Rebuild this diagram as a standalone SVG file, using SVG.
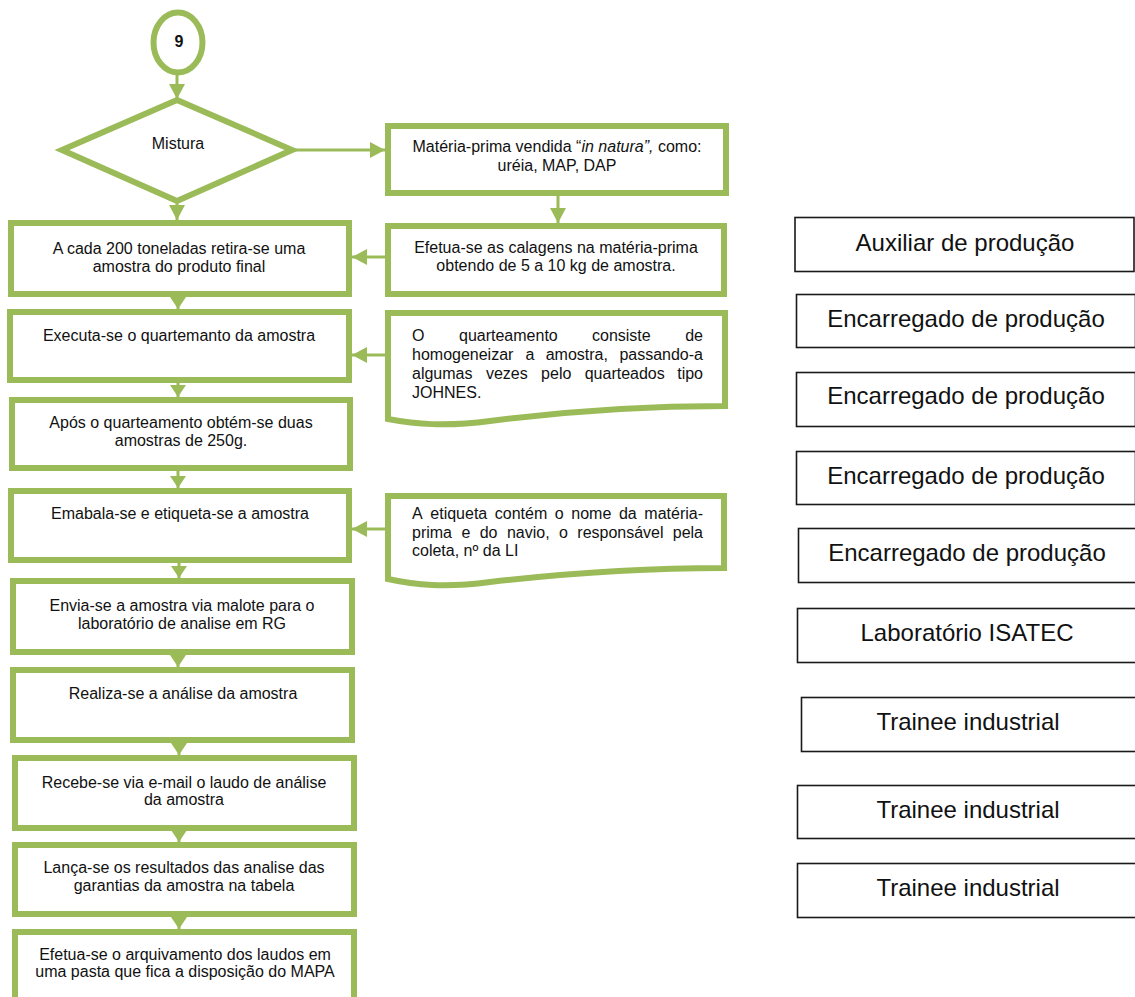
<svg xmlns="http://www.w3.org/2000/svg" width="1135" height="997" viewBox="0 0 1135 997">
  <style>
    .g { fill: #ffffff; stroke: #9bbb59; stroke-width: 6; }
    .k { fill: #ffffff; stroke: #1a1a1a; stroke-width: 1.6; }
    .c { fill: none; stroke: #9bbb59; stroke-width: 3; }
    .t { font-family: "Liberation Sans", Arial, sans-serif; font-size: 16px; fill: #111111; }
    .tm { text-anchor: middle; }
    .tr { font-family: "Liberation Sans", Arial, sans-serif; font-size: 24px; fill: #111111; text-anchor: middle; }
    .e { text-anchor: end; }
  </style>
  <defs>
    <marker id="ah" viewBox="0 0 10 10" refX="10" refY="5" markerUnits="userSpaceOnUse" markerWidth="15" markerHeight="16" preserveAspectRatio="none" orient="auto">
      <path d="M0,0 L10,5 L0,10 Z" fill="#9bbb59"/>
    </marker>
    <marker id="ahs" viewBox="0 0 10 10" refX="10" refY="5" markerUnits="userSpaceOnUse" markerWidth="12" markerHeight="16" preserveAspectRatio="none" orient="auto">
      <path d="M0,0 L10,5 L0,10 Z" fill="#9bbb59"/>
    </marker>
  </defs>

  <rect width="1135" height="997" fill="#ffffff"/>

  <!-- connectors -->
  <g id="connectors">
    <line class="c" x1="177" y1="75" x2="177" y2="99" marker-end="url(#ah)"/>
    <line class="c" x1="292" y1="150" x2="385" y2="150" marker-end="url(#ah)"/>
    <line class="c" x1="177" y1="201" x2="177" y2="220" marker-end="url(#ah)"/>
    <line class="c" x1="558" y1="196" x2="558" y2="223" marker-end="url(#ah)"/>
    <line class="c" x1="385" y1="257" x2="352" y2="257" marker-end="url(#ah)"/>
    <line class="c" x1="385" y1="355" x2="352" y2="355" marker-end="url(#ah)"/>
    <line class="c" x1="385" y1="529" x2="352" y2="529" marker-end="url(#ah)"/>
    <line class="c" x1="178" y1="297" x2="178" y2="309" marker-end="url(#ahs)"/>
    <line class="c" x1="178" y1="383" x2="178" y2="397" marker-end="url(#ahs)"/>
    <line class="c" x1="178" y1="471" x2="178" y2="488" marker-end="url(#ahs)"/>
    <line class="c" x1="179" y1="563" x2="179" y2="578" marker-end="url(#ahs)"/>
    <line class="c" x1="178" y1="655" x2="178" y2="667" marker-end="url(#ahs)"/>
    <line class="c" x1="179" y1="743" x2="179" y2="755" marker-end="url(#ahs)"/>
    <line class="c" x1="179" y1="831" x2="179" y2="842" marker-end="url(#ahs)"/>
    <line class="c" x1="179" y1="917" x2="179" y2="929" marker-end="url(#ahs)"/>
  </g>

  <!-- start connector -->
  <g id="n-start">
    <ellipse class="g" cx="178" cy="42.5" rx="24.5" ry="30" stroke-width="5"/>
    <text class="t tm" x="179" y="47" font-weight="bold" font-size="14">9</text>
  </g>

  <g id="n-mistura">
    <polygon class="g" points="177,100 292,150 177,201 62,150"/>
    <text class="t tm" x="178" y="149">Mistura</text>
  </g>

  <g id="n-materia">
    <rect class="g" x="388" y="126" width="338" height="67"/>
    <text class="t tm" x="557" y="152">Matéria-prima vendida “<tspan font-style="italic">in natura”,</tspan> como:</text>
    <text class="t tm" x="557" y="171">uréia, MAP, DAP</text>
  </g>

  <g id="n-calagens">
    <rect class="g" x="388" y="226" width="336" height="68"/>
    <text class="t tm" x="556" y="253">Efetua-se as calagens na matéria-prima</text>
    <text class="t tm" x="556" y="271">obtendo de 5 a 10 kg de amostra.</text>
  </g>

  <!-- justified note: words placed one by one -->
  <g id="n-quarteamento-nota">
    <path class="g" d="M388,313 H725 V406 C640,406 560,412 490,421 C445,427 415,424 388,419 Z"/>
    <text class="t" y="341"><tspan x="412">O</tspan><tspan x="459">quarteamento</tspan><tspan x="592">consiste</tspan></text>
    <text class="t e" x="703" y="341">de</text>
    <text class="t" y="360"><tspan x="412">homogeneizar</tspan><tspan x="525.4">a</tspan><tspan x="545.7">amostra,</tspan></text>
    <text class="t e" x="703" y="360">passando-a</text>
    <text class="t" y="379"><tspan x="412">algumas</tspan><tspan x="485.9">vezes</tspan><tspan x="541.1">pelo</tspan><tspan x="584.7">quarteados</tspan></text>
    <text class="t e" x="703" y="379">tipo</text>
    <text class="t" x="412" y="398">JOHNES.</text>
  </g>

  <g id="n-etiqueta-nota">
    <path class="g" d="M388,496 H724 V568 C640,568 560,574 490,582 C445,588 415,585 388,579 Z"/>
    <text class="t" y="519"><tspan x="412">A</tspan><tspan x="430.3">etiqueta</tspan><tspan x="494.8">contém</tspan><tspan x="554.8">o</tspan><tspan x="571.3">nome</tspan><tspan x="618.9">da</tspan></text>
    <text class="t e" x="703" y="519">matéria-</text>
    <text class="t" y="538"><tspan x="412">prima</tspan><tspan x="461.4">e</tspan><tspan x="479.7">do</tspan><tspan x="506.9">navio,</tspan><tspan x="559">o</tspan><tspan x="577.3">responsável</tspan></text>
    <text class="t e" x="703" y="538">pela</text>
    <text class="t" x="412" y="556">coleta, nº da LI</text>
  </g>

  <!-- main column -->
  <g id="n-retirada">
    <rect class="g" x="11" y="223" width="338" height="71"/>
    <text class="t tm" x="179" y="254">A cada 200 toneladas retira-se uma</text>
    <text class="t tm" x="179" y="272">amostra do produto final</text>
  </g>

  <g id="n-quartemanto">
    <rect class="g" x="10" y="312" width="339" height="68"/>
    <text class="t tm" x="179" y="341">Executa-se o quartemanto da amostra</text>
  </g>

  <g id="n-duas-amostras">
    <rect class="g" x="12" y="400" width="338" height="68"/>
    <text class="t tm" x="181" y="428">Após o quarteamento obtém-se duas</text>
    <text class="t tm" x="181" y="446">amostras de 250g.</text>
  </g>

  <g id="n-embala">
    <rect class="g" x="11" y="491" width="338" height="69"/>
    <text class="t tm" x="180" y="519">Emabala-se e etiqueta-se a amostra</text>
  </g>

  <g id="n-envia">
    <rect class="g" x="13" y="581" width="339" height="71"/>
    <text class="t tm" x="182" y="611">Envia-se a amostra via malote para o</text>
    <text class="t tm" x="182" y="629">laboratório de analise em RG</text>
  </g>

  <g id="n-analise">
    <rect class="g" x="13" y="670" width="339" height="70"/>
    <text class="t tm" x="183" y="699">Realiza-se a análise da amostra</text>
  </g>

  <g id="n-laudo">
    <rect class="g" x="15" y="758" width="339" height="70"/>
    <text class="t tm" x="184" y="788">Recebe-se via e-mail o laudo de análise</text>
    <text class="t tm" x="184" y="805">da amostra</text>
  </g>

  <g id="n-resultados">
    <rect class="g" x="15" y="845" width="339" height="69"/>
    <text class="t tm" x="184" y="873">Lança-se os resultados das analise das</text>
    <text class="t tm" x="184" y="891">garantias da amostra na tabela</text>
  </g>

  <g id="n-arquivo">
    <rect class="g" x="15" y="932" width="339" height="80"/>
    <text class="t tm" x="185" y="960" font-size="14.6">Efetua-se o arquivamento dos laudos em</text>
    <text class="t tm" x="185" y="977" font-size="14.6">uma pasta que fica a disposição do MAPA</text>
  </g>

  <!-- responsibility column -->
  <g id="r-auxiliar">
    <rect class="k" x="795" y="217.5" width="339" height="54"/>
    <text class="tr" x="965" y="251">Auxiliar de produção</text>
  </g>
  <g id="r-encarregado-1">
    <rect class="k" x="796.5" y="294.5" width="339" height="53"/>
    <text class="tr" x="966" y="327">Encarregado de produção</text>
  </g>
  <g id="r-encarregado-2">
    <rect class="k" x="796.5" y="372.5" width="339" height="54"/>
    <text class="tr" x="966" y="404">Encarregado de produção</text>
  </g>
  <g id="r-encarregado-3">
    <rect class="k" x="796.5" y="451.5" width="339" height="53"/>
    <text class="tr" x="966" y="484">Encarregado de produção</text>
  </g>
  <g id="r-encarregado-4">
    <rect class="k" x="798.5" y="528.5" width="339" height="54"/>
    <text class="tr" x="967" y="561">Encarregado de produção</text>
  </g>
  <g id="r-laboratorio">
    <rect class="k" x="797.5" y="608.5" width="339" height="54"/>
    <text class="tr" x="967" y="641">Laboratório ISATEC</text>
  </g>
  <g id="r-trainee-1">
    <rect class="k" x="801.5" y="697.5" width="339" height="54"/>
    <text class="tr" x="968" y="730">Trainee industrial</text>
  </g>
  <g id="r-trainee-2">
    <rect class="k" x="797.5" y="785.5" width="339" height="53"/>
    <text class="tr" x="968" y="818">Trainee industrial</text>
  </g>
  <g id="r-trainee-3">
    <rect class="k" x="797.5" y="863.5" width="339" height="54"/>
    <text class="tr" x="968" y="896">Trainee industrial</text>
  </g>
</svg>
